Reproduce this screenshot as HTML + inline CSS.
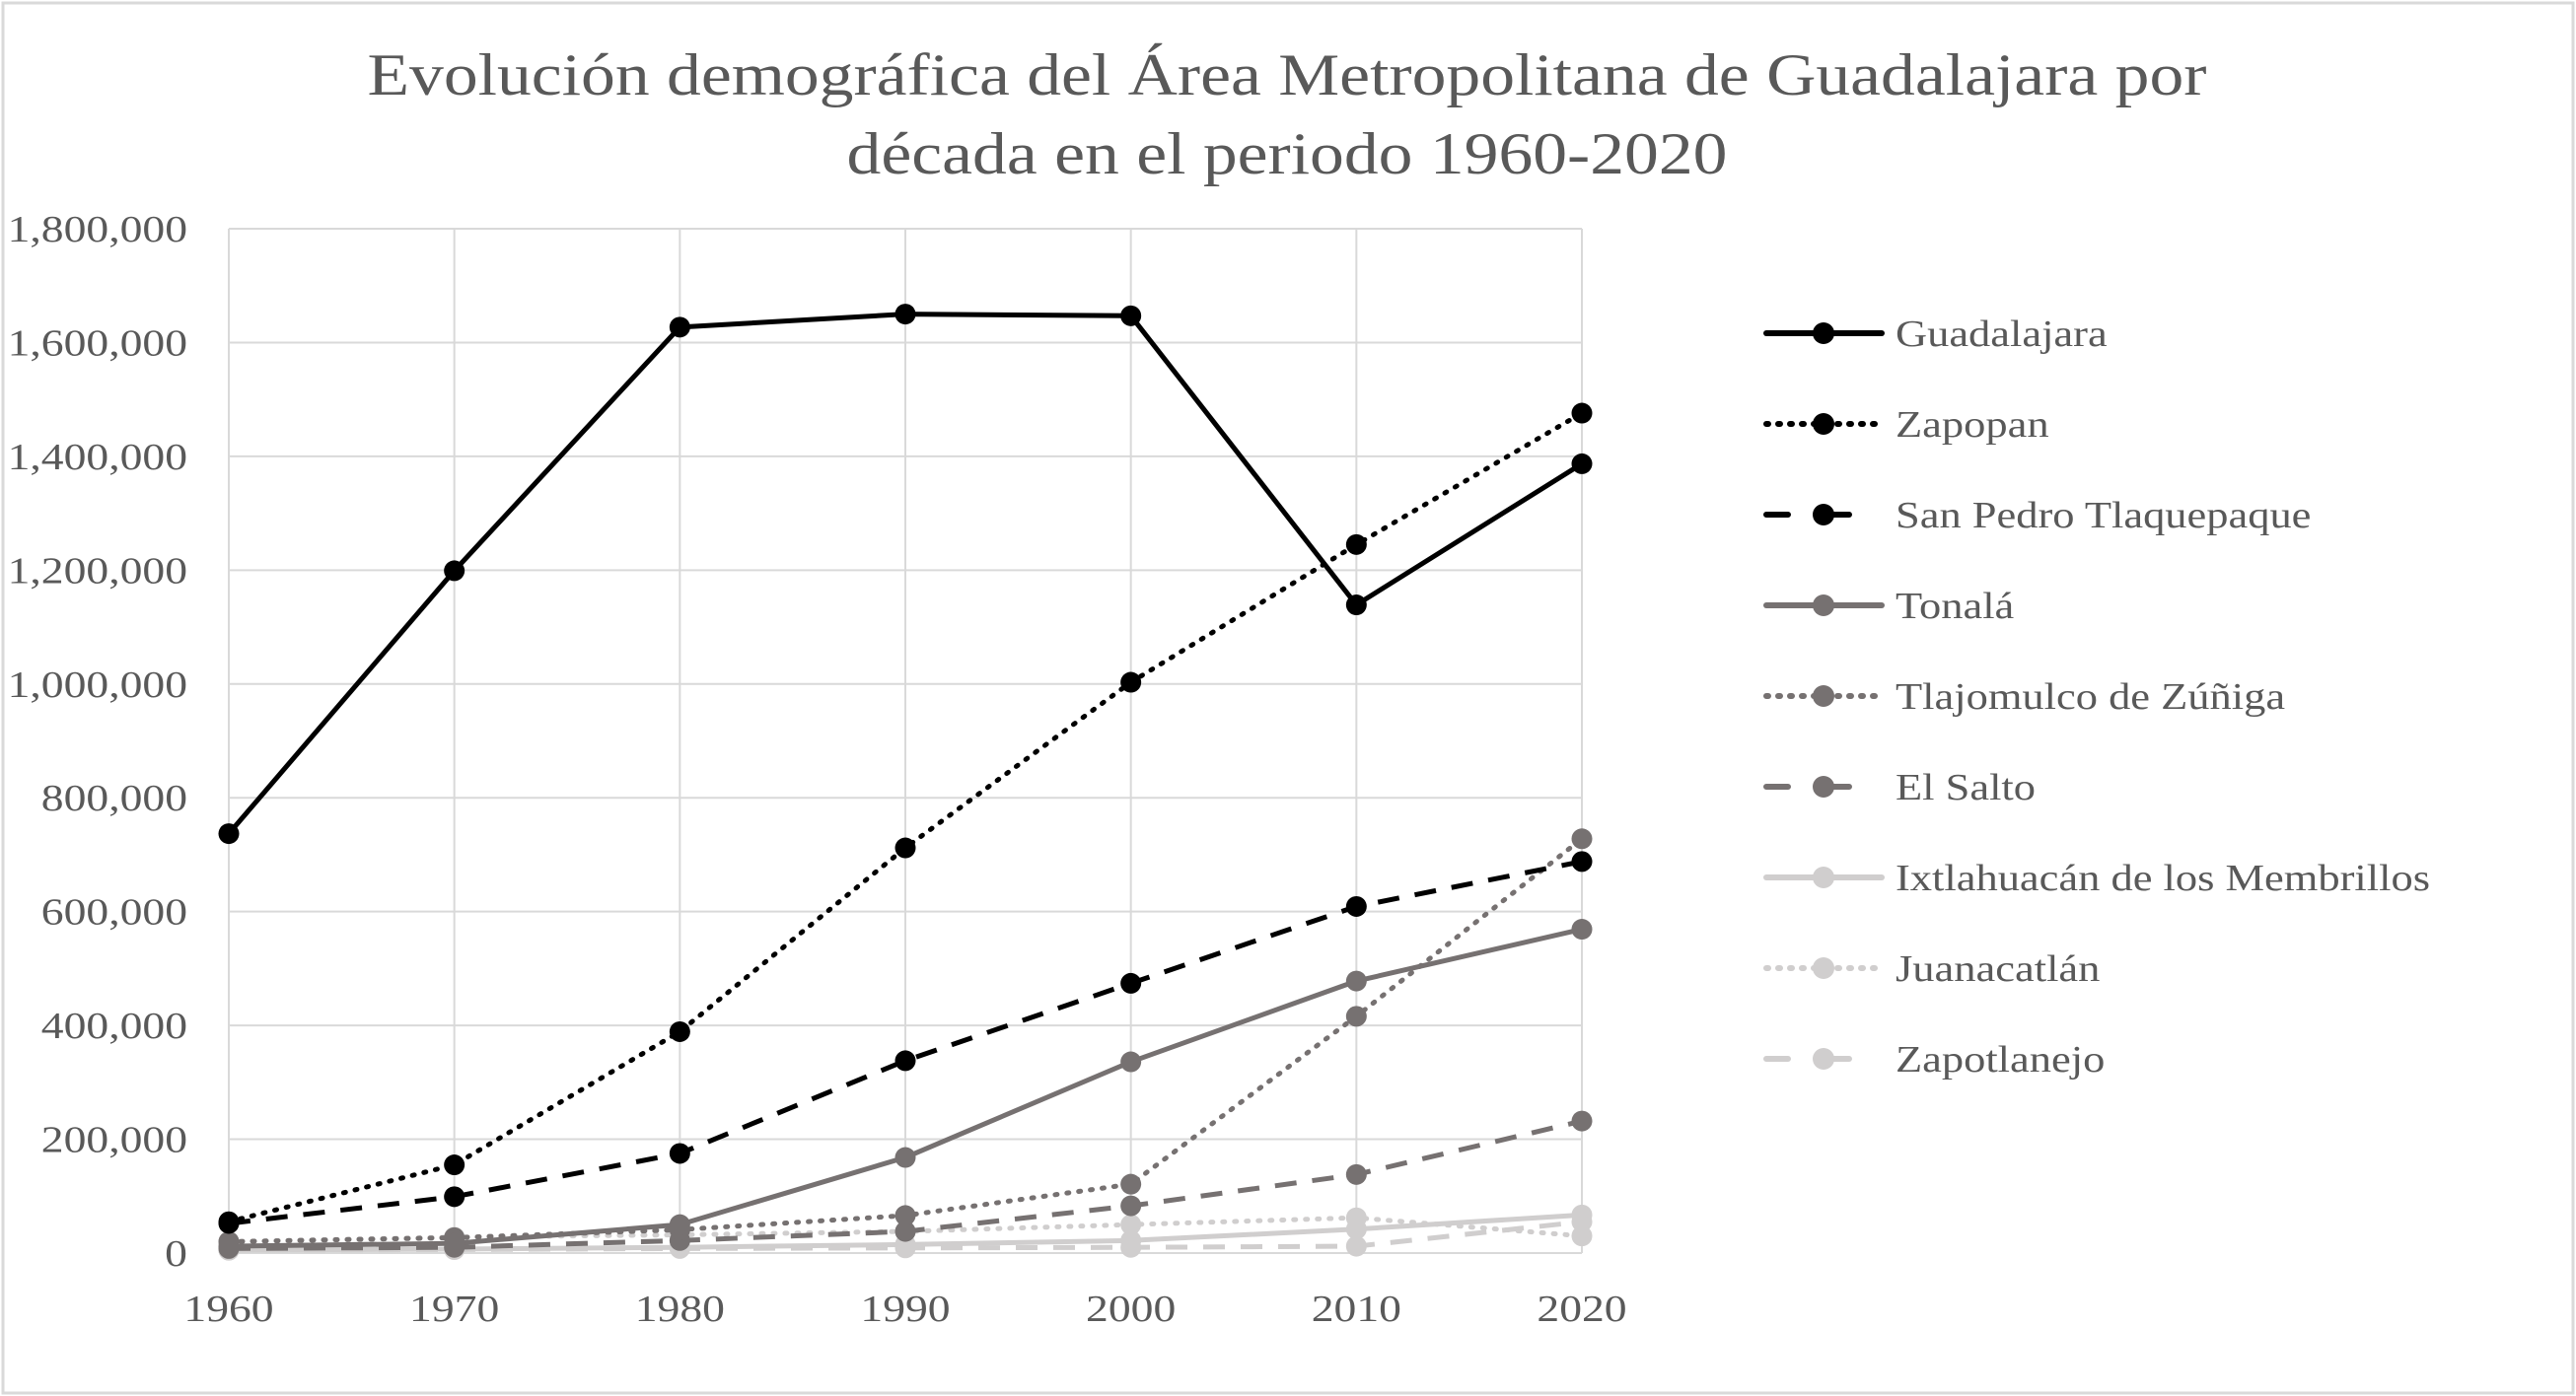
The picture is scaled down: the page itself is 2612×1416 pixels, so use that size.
<!DOCTYPE html>
<html><head><meta charset="utf-8"><style>
html,body{margin:0;padding:0;background:#fff;}
svg{display:block;font-family:"Liberation Serif",serif;}
</style></head><body>
<svg id="chart" width="2612" height="1416" viewBox="0 0 2612 1416">
<rect x="3" y="3" width="2606" height="1410" fill="#fff" stroke="#d9d9d9" stroke-width="3"/>
<text class="st" data-f="1.16" x="1305" y="96" font-size="60" fill="#595959" text-anchor="middle">Evolución demográfica del Área Metropolitana de Guadalajara por</text>
<text class="st" data-f="1.16" x="1305" y="176" font-size="60" fill="#595959" text-anchor="middle">década en el periodo 1960-2020</text>
<g id="grid"></g><g id="axes"></g><g id="series"></g><g id="legend"></g>
</svg>
<script>
const years = [1960,1970,1980,1990,2000,2010,2020];
const yTicks = [0,200000,400000,600000,800000,1000000,1200000,1400000,1600000,1800000];
const names = ["Guadalajara","Zapopan","San Pedro Tlaquepaque","Tonalá","Tlajomulco de Zúñiga","El Salto","Ixtlahuacán de los Membrillos","Juanacatlán","Zapotlanejo"];
const guadalajara = [737000,1199000,1627000,1650000,1647000,1139000,1387000];
const zapopan = [55000,155000,389000,712000,1003000,1245000,1476000];
const tlaquepaque = [52000,99000,175000,338000,474000,609000,688000];
const tonala = [12000,17000,50000,168000,336000,478000,569000];
const tlajomulco = [20000,27000,41000,66000,121000,416000,728000];
const elSalto = [8000,10000,22000,38000,83000,138000,232000];
const ixtlahuacan = [5000,7000,10000,15000,22000,42000,67000];
const juanacatlan = [20000,28000,32000,38000,50000,62000,30000];
const zapotlanejo = [5000,6000,8000,9000,10000,12000,55000];
const seriesData = [guadalajara,zapopan,tlaquepaque,tonala,tlajomulco,elSalto,ixtlahuacan,juanacatlan,zapotlanejo];
const colors = ["#000","#000","#000","#767171","#767171","#767171","#d0cece","#d0cece","#d0cece"];
const dashes = ["none","2 10","22 16","none","2 10","22 16","none","2 10","22 16"];

const NS="http://www.w3.org/2000/svg";
const L=232,R=1604,T=232,B=1271;
const xS=y=>L+(y-1960)/60*(R-L);
const yS=v=>B-v/1800000*(B-T);
function mk(tag,attrs,parent){const e=document.createElementNS(NS,tag);for(const k in attrs)e.setAttribute(k,attrs[k]);parent.appendChild(e);return e;}
const grid=document.getElementById('grid'),axes=document.getElementById('axes'),ser=document.getElementById('series'),leg=document.getElementById('legend');
yTicks.forEach(v=>{
  const l=mk('line',{x1:L,x2:R,y1:yS(v),y2:yS(v),stroke:'#d9d9d9','stroke-width':2},grid);
  
  
  const t=mk('text',{x:190,y:yS(v)+13,'font-size':38,fill:'#595959','text-anchor':'end',class:'st','data-f':'1.2'},axes);
  t.textContent=v.toLocaleString('en-US');
  
  
});
years.forEach(y=>{
  const l=mk('line',{x1:xS(y),x2:xS(y),y1:T,y2:B,stroke:'#d9d9d9','stroke-width':2},grid);
  
  
  const t=mk('text',{x:xS(y),y:1340,'font-size':38,fill:'#595959','text-anchor':'middle',class:'st','data-f':'1.2'},axes);
  t.textContent=y;
  
  
});
for(let i=seriesData.length-1;i>=0;i--){
  const d=seriesData[i];
  const g=mk('g',{},ser);
  
  
  const pts=d.map((v,j)=>xS(years[j])+','+yS(v)).join(' ');
  mk('polyline',{points:pts,fill:'none',stroke:colors[i],'stroke-width':5,'stroke-dasharray':dashes[i],'stroke-linecap':dashes[i]=="2 10"?'round':'butt','stroke-linejoin':'round'},g);
  d.forEach((v,j)=>{
    const c=mk('circle',{cx:xS(years[j]),cy:yS(v),r:10.5,fill:colors[i]},g);
    
    
  });
}
names.forEach((n,i)=>{
  const y=338+i*92;
  const g=mk('g',{},leg);
  
  
  mk('line',{x1:1791,x2:1908,y1:y,y2:y,stroke:colors[i],'stroke-width':6,'stroke-dasharray':dashes[i]=="none"?"none":(dashes[i]=="2 10"?"2 10":"22 40"),'stroke-linecap':'round'},g);
  mk('circle',{cx:1849,cy:y,r:11,fill:colors[i]},g);
  const t=mk('text',{x:1922,y:y+13,'font-size':38,fill:'#595959',class:'st','data-f':'1.17'},g);
  t.textContent=n;
});
document.querySelectorAll('.st').forEach(t=>{
  const f=parseFloat(t.getAttribute('data-f'));
  const w=t.getComputedTextLength();
  t.setAttribute('textLength',(w*f).toFixed(1));
  t.setAttribute('lengthAdjust','spacingAndGlyphs');
});
</script>
</body></html>
